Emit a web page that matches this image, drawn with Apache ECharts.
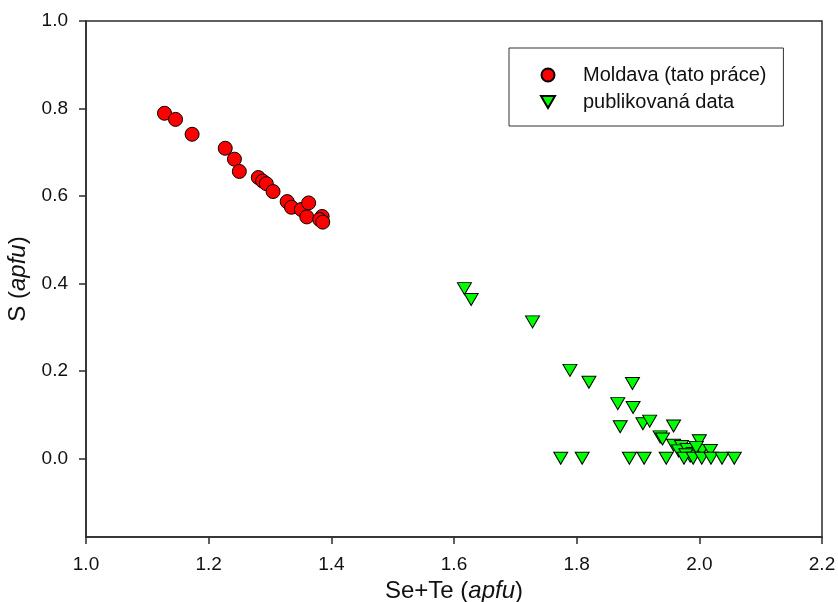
<!DOCTYPE html>
<html>
<head>
<meta charset="utf-8">
<script src="https://cdn.jsdelivr.net/npm/echarts@6/dist/echarts.min.js"></script>
<style>
  html, body { margin: 0; padding: 0; background: #fff; }
  #chart { width: 838px; height: 602px; }
</style>
</head>
<body>
<div id="chart"></div>
<script>
// Moldava points (Se+Te, S)
const moldava = [
  [1.128, 0.789], [1.146, 0.775], [1.173, 0.741], [1.227, 0.709], [1.242, 0.684],
  [1.250, 0.656], [1.281, 0.642], [1.288, 0.634], [1.294, 0.628], [1.305, 0.610],
  [1.328, 0.587], [1.335, 0.574], [1.351, 0.569], [1.363, 0.584], [1.360, 0.552],
  [1.385, 0.553], [1.381, 0.546], [1.386, 0.540]
];

// published data
const published = [
  [1.617, 0.388], [1.628, 0.363], [1.728, 0.312], [1.789, 0.201], [1.820, 0.174],
  [1.891, 0.171], [1.867, 0.125], [1.892, 0.116], [1.871, 0.072], [1.908, 0.079],
  [1.919, 0.085], [1.958, 0.074], [1.936, 0.049], [1.940, 0.044], [1.958, 0.030],
  [1.971, 0.027], [1.966, 0.017], [1.980, 0.020], [1.990, 0.011], [2.000, 0.040],
  [2.004, 0.018], [2.018, 0.018], [1.985, 0.005], [1.978, 0.008], [1.995, 0.025],
  [1.774, 0], [1.809, 0], [1.886, 0], [1.910, 0], [1.946, 0], [1.975, 0],
  [1.990, 0], [2.004, 0], [2.019, 0], [2.037, 0], [2.057, 0]
];

const yTicks = [0, 0.2, 0.4, 0.6, 0.8, 1.0];
const seriesNames = ['Moldava (tato práce)', 'publikovaná data'];

const font = 'Liberation Sans, Arial, sans-serif';
const axisColor = '#2b2b2b';
const downTriangle = 'path://M0,0 L14,0 L7,12 Z';

const chart = echarts.init(document.getElementById('chart'));

chart.setOption({
  animation: false,
  backgroundColor: '#fff',
  grid: {
    left: 86, right: 16, top: 21, bottom: 65,
    outerBoundsMode: 'none',
    containLabel: false,
    show: true, borderColor: axisColor, borderWidth: 1.5
  },
  legend: {
    orient: 'vertical',
    left: 509, top: 48,
    padding: [17, 17, 14, 31],
    itemGap: 7,
    itemWidth: 14, itemHeight: 13,
    borderColor: '#333', borderWidth: 1,
    data: [
      { name: seriesNames[0], icon: 'circle' },
      { name: seriesNames[1], icon: downTriangle }
    ],
    textStyle: { fontFamily: font, fontSize: 20, color: '#111', padding: [0, 0, 0, 23] }
  },
  xAxis: {
    type: 'value',
    min: 1.0, max: 2.2, interval: 0.2,
    name: '{n|Se+Te (}{i|apfu}{n|)}',
    nameLocation: 'middle',
    nameGap: 41,
    nameTextStyle: {
      rich: {
        n: { fontFamily: font, fontSize: 24, color: '#111' },
        i: { fontFamily: font, fontSize: 24, fontStyle: 'italic', color: '#111' }
      }
    },
    axisLine: { show: true, onZero: false, lineStyle: { color: axisColor, width: 1.5 } },
    axisTick: { show: true, length: 7, lineStyle: { color: axisColor, width: 1.5 } },
    axisLabel: {
      margin: 18, fontFamily: font, fontSize: 19, color: '#111',
      formatter: v => v.toFixed(1)
    },
    splitLine: { show: false }
  },
  yAxis: {
    type: 'value',
    min: -0.18, max: 1.0,
    name: '{n|S (}{i|apfu}{n|)}',
    nameLocation: 'middle',
    nameGap: 56,
    nameTextStyle: {
      rich: {
        n: { fontFamily: font, fontSize: 24, color: '#111' },
        i: { fontFamily: font, fontSize: 24, fontStyle: 'italic', color: '#111' }
      }
    },
    axisLine: { show: true, onZero: false, lineStyle: { color: axisColor, width: 1.5 } },
    axisTick: { show: true, length: 7, customValues: yTicks, lineStyle: { color: axisColor, width: 1.5 } },
    axisLabel: {
      margin: 18, fontFamily: font, fontSize: 19, color: '#111',
      customValues: yTicks,
      formatter: v => v.toFixed(1)
    },
    splitLine: { show: false }
  },
  series: [
    {
      name: seriesNames[0],
      type: 'scatter',
      data: moldava,
      symbol: 'circle',
      symbolSize: 14,
      itemStyle: { color: '#ff0000', borderColor: '#000', borderWidth: 1, opacity: 1 }
    },
    {
      name: seriesNames[1],
      type: 'scatter',
      data: published,
      symbol: 'triangle',
      symbolRotate: 180,
      symbolSize: [14, 12],
      itemStyle: { color: '#00ff00', borderColor: '#000', borderWidth: 1, opacity: 1 }
    }
  ]
});
</script>
</body>
</html>
